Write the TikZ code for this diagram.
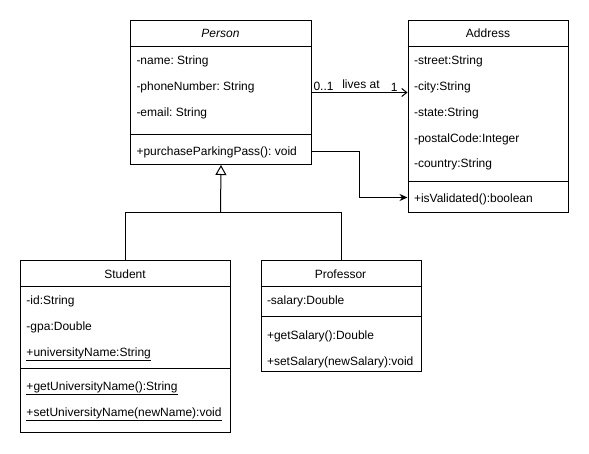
\documentclass[tikz,border=0pt]{standalone}
\usepackage{fontspec}
\setmainfont{Liberation Sans}
\usetikzlibrary{arrows.meta}
\frenchspacing
\begin{document}
\begin{tikzpicture}[x=1pt,y=-1pt,line width=1pt,
    classbox/.style={draw,anchor=north west,inner sep=0pt},
    member/.style={anchor=west,inner sep=0pt,text height=10pt,text depth=1pt,font=\fontsize{12}{14}\selectfont},
    title/.style={inner sep=0pt,text height=10pt,text depth=1pt,font=\fontsize{12}{14}\selectfont},
    role/.style={inner sep=1pt,font=\fontsize{12}{14}\selectfont},
    assoc/.style={-{Straight Barb[length=5pt,width=8pt]}},
    usecall/.style={-{Stealth[length=8pt,width=7pt]}},
    inherit/.style={-{Triangle[open,length=10pt,width=11pt]}}]
    \useasboundingbox[fill=white] (0,0) rectangle (589,453);
    \node[classbox,minimum width=181pt,minimum height=144pt] (person) at (130,20) {};
    \node[classbox,minimum width=160.5pt,minimum height=192pt] (address) at (407.5,20) {};
    \node[classbox,minimum width=210pt,minimum height=172pt] (student) at (20,260) {};
    \node[classbox,minimum width=160pt,minimum height=111pt] (professor) at (260.5,260) {};
    \draw (130,46.5) -- (311,46.5) (130,134) -- (311,134);
    \draw (407.5,46.5) -- (568,46.5) (407.5,181) -- (568,181);
    \draw (20,286.5) -- (230,286.5) (20,368) -- (230,368);
    \draw (260.5,286.5) -- (420.5,286.5) (260.5,316) -- (420.5,316);
    \node[title] (ptitle) at (220.5,33) {\itshape Person};
    \node[member] (pname) at (136,60) {-name: String};
    \node[member] (pphone) at (136,86) {-phoneNumber: String};
    \node[member] (pmail) at (136,112) {-email: String};
    \node[member] (ppass) at (136,151) {+purchaseParkingPass(): void};
    \node[title] (atitle) at (488,33) {Address};
    \node[member] (astreet) at (413.5,60) {-street:String};
    \node[member] (acity) at (413.5,86) {-city:String};
    \node[member] (astate) at (413.5,112) {-state:String};
    \node[member] (apostal) at (413.5,137.5) {-postalCode:Integer};
    \node[member] (acountry) at (413.5,163) {-country:String};
    \node[member] (avalid) at (413.5,197.5) {+isValidated():boolean};
    \node[title] (stitle) at (125,273.5) {Student};
    \node[member] (sid) at (26,299.5) {-id:String};
    \node[member] (sgpa) at (26,325.5) {-gpa:Double};
    \node[member] (suni) at (26,351.5) {\underline{+universityName:String}};
    \node[member] (sget) at (26,386) {\underline{+getUniversityName():String}};
    \node[member] (sset) at (26,411.5) {\underline{+setUniversityName(newName):void}};
    \node[title] (rtitle) at (340.5,273.5) {Professor};
    \node[member] (rsal) at (266.5,299.5) {-salary:Double};
    \node[member] (rget) at (266.5,334.5) {+getSalary():Double};
    \node[member] (rset) at (266.5,360.5) {+setSalary(newSalary):void};
    \draw[assoc] (person.east) -- (person.east -| address.west);
    \node[role,anchor=south west] (mult0) at (person.east) {0..1};
    \node[role,anchor=south] (lives) at (361,90) {lives at};
    \node[role,anchor=south east] (mult1) at (person.east -| 399,0) {1};
    \coordinate (bend) at (359.5,197.5);
    \draw[usecall] (person.east |- ppass) -| (bend) -- (address.west |- avalid);
    \coordinate (gen) at (220.5,212.5);
    \draw (student.north) |- (gen) -| (professor.north);
    \draw[inherit] (gen) -- (person.south);
\end{tikzpicture}
\end{document}
